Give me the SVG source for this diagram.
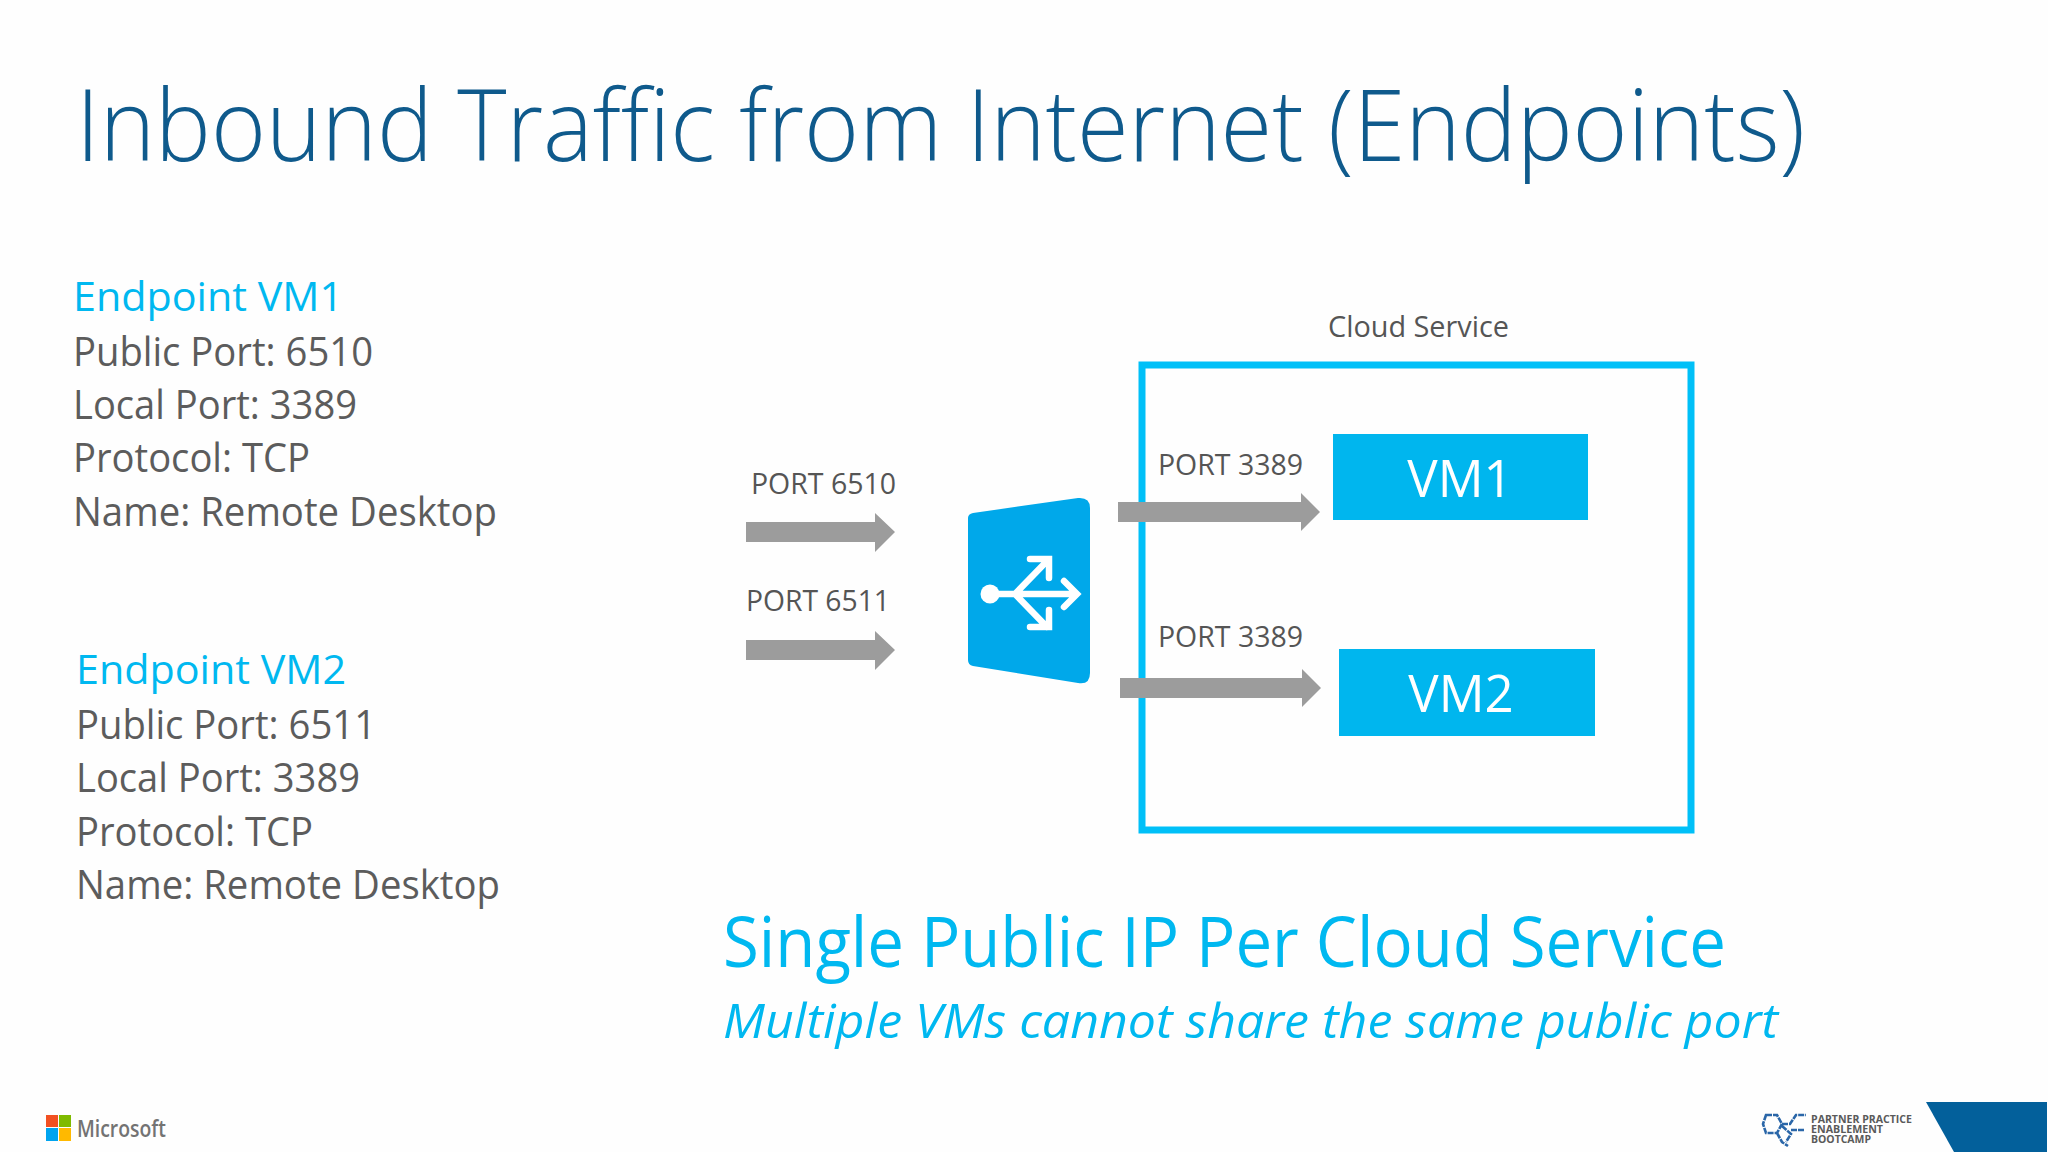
<svg xmlns="http://www.w3.org/2000/svg" width="2048" height="1152" viewBox="0 0 2048 1152">
<style>
text{font-family:"Open Sans","Noto Sans","Liberation Sans",sans-serif}
.t{font-size:41px;fill:#5c5c5c}
.h{font-size:41px;fill:#00b8f0}
.p{font-size:30px;fill:#555}
.v{font-size:51px;fill:#fff;text-anchor:middle}
.a{fill:#9c9c9c}
.b{font-size:10.5px;font-weight:700;fill:#5a5a5a}
.i{stroke:#fff;stroke-width:6.5;fill:none;stroke-linecap:round;stroke-linejoin:miter}
</style>
<rect width="2048" height="1152" fill="#fefefe"/>
<text id="title" x="76" y="161" font-size="100" font-weight="300" fill="#0f5a8c" textLength="1729" lengthAdjust="spacingAndGlyphs">Inbound Traffic from Internet (Endpoints)</text>
<g id="endpoint-vm1">
<text class="h" x="73" y="311" textLength="270" lengthAdjust="spacingAndGlyphs">Endpoint VM1</text>
<text class="t" x="73" y="366" textLength="300" lengthAdjust="spacingAndGlyphs">Public Port: 6510</text>
<text class="t" x="73" y="419" textLength="284" lengthAdjust="spacingAndGlyphs">Local Port: 3389</text>
<text class="t" x="73" y="472" textLength="237" lengthAdjust="spacingAndGlyphs">Protocol: TCP</text>
<text class="t" x="73" y="526" textLength="424" lengthAdjust="spacingAndGlyphs">Name: Remote Desktop</text>
</g>
<g id="endpoint-vm2">
<text class="h" x="76" y="684" textLength="270" lengthAdjust="spacingAndGlyphs">Endpoint VM2</text>
<text class="t" x="76" y="739" textLength="300" lengthAdjust="spacingAndGlyphs">Public Port: 6511</text>
<text class="t" x="76" y="792" textLength="284" lengthAdjust="spacingAndGlyphs">Local Port: 3389</text>
<text class="t" x="76" y="846" textLength="237" lengthAdjust="spacingAndGlyphs">Protocol: TCP</text>
<text class="t" x="76" y="899" textLength="424" lengthAdjust="spacingAndGlyphs">Name: Remote Desktop</text>
</g>
<g id="cloud-service">
<rect x="1142" y="365" width="549" height="465" fill="none" stroke="#00c0f8" stroke-width="7"/>
<text x="1328" y="337" font-size="30" fill="#555" textLength="181" lengthAdjust="spacingAndGlyphs">Cloud Service</text>
</g>
<g id="vm1"><rect x="1333" y="434" width="255" height="86" fill="#00b6ee"/><text class="v" x="1460" y="497">VM1</text></g>
<g id="vm2"><rect x="1339" y="649" width="256" height="87" fill="#00b6ee"/><text class="v" x="1461" y="712">VM2</text></g>
<g id="load-balancer">
<path d="M968 518Q968 514 973 513L1078 498Q1090 497 1090 508V673Q1090 685 1078 683L973 666Q968 665 968 660Z" fill="#00a8ea"/>
<circle cx="990" cy="594" r="9.5" fill="#fff"/>
<path class="i" d="M990 594H1074M1064 581L1077 594L1064 607M1015 594L1047 561M1030 559H1049V578M1015 594L1047 627M1030 627H1049V610"/>
</g>
<g id="connectors">
<path class="a" d="M746 522H875V513L895 532L875 552V542H746Z"/>
<path class="a" d="M746 640H875V631L895 650L875 670V660H746Z"/>
<path class="a" d="M1118 502H1301V493L1320 512L1301 531V522H1118Z"/>
<path class="a" d="M1120 678H1302V669L1321 688L1302 707V698H1120Z"/>
</g>
<g id="port-labels">
<text class="p" x="751" y="494" textLength="145" lengthAdjust="spacingAndGlyphs">PORT 6510</text>
<text class="p" x="746" y="611" textLength="144" lengthAdjust="spacingAndGlyphs">PORT 6511</text>
<text class="p" x="1158" y="475" textLength="145" lengthAdjust="spacingAndGlyphs">PORT 3389</text>
<text class="p" x="1158" y="647" textLength="145" lengthAdjust="spacingAndGlyphs">PORT 3389</text>
</g>
<g id="caption">
<text x="723" y="967" font-size="69" fill="#00b8f0" textLength="1003" lengthAdjust="spacingAndGlyphs">Single Public IP Per Cloud Service</text>
<text x="723" y="1038" font-size="48" font-style="italic" fill="#00b8f0" textLength="1055" lengthAdjust="spacingAndGlyphs">Multiple VMs cannot share the same public port</text>
</g>
<g id="microsoft-logo">
<rect x="46" y="1115" width="12" height="12" fill="#f25022"/><rect x="59" y="1115" width="12" height="12" fill="#7fba00"/>
<rect x="46" y="1128" width="12" height="13" fill="#00a4ef"/><rect x="59" y="1128" width="12" height="13" fill="#ffb900"/>
<text x="77" y="1137" font-size="23" font-weight="600" fill="#737373" textLength="89" lengthAdjust="spacingAndGlyphs">Microsoft</text>
</g>
<g id="bootcamp-logo">
<path d="M1766 1115H1777L1782 1124L1777 1133H1766L1763 1124ZM1782 1124H1790L1796 1115H1806M1777 1133L1782 1142L1788 1146M1782 1126L1791 1134L1786 1142M1791 1130H1804" fill="none" stroke="#2a66a8" stroke-width="2.6" stroke-dasharray="6 1"/>
<text class="b" x="1811" y="1123" textLength="101" lengthAdjust="spacingAndGlyphs">PARTNER PRACTICE</text>
<text class="b" x="1811" y="1133" textLength="72" lengthAdjust="spacingAndGlyphs">ENABLEMENT</text>
<text class="b" x="1811" y="1143" textLength="60" lengthAdjust="spacingAndGlyphs">BOOTCAMP</text>
</g>
<polygon id="corner" points="1926,1102 2047,1102 2047,1152 1954,1152" fill="#03609b"/>
</svg>
